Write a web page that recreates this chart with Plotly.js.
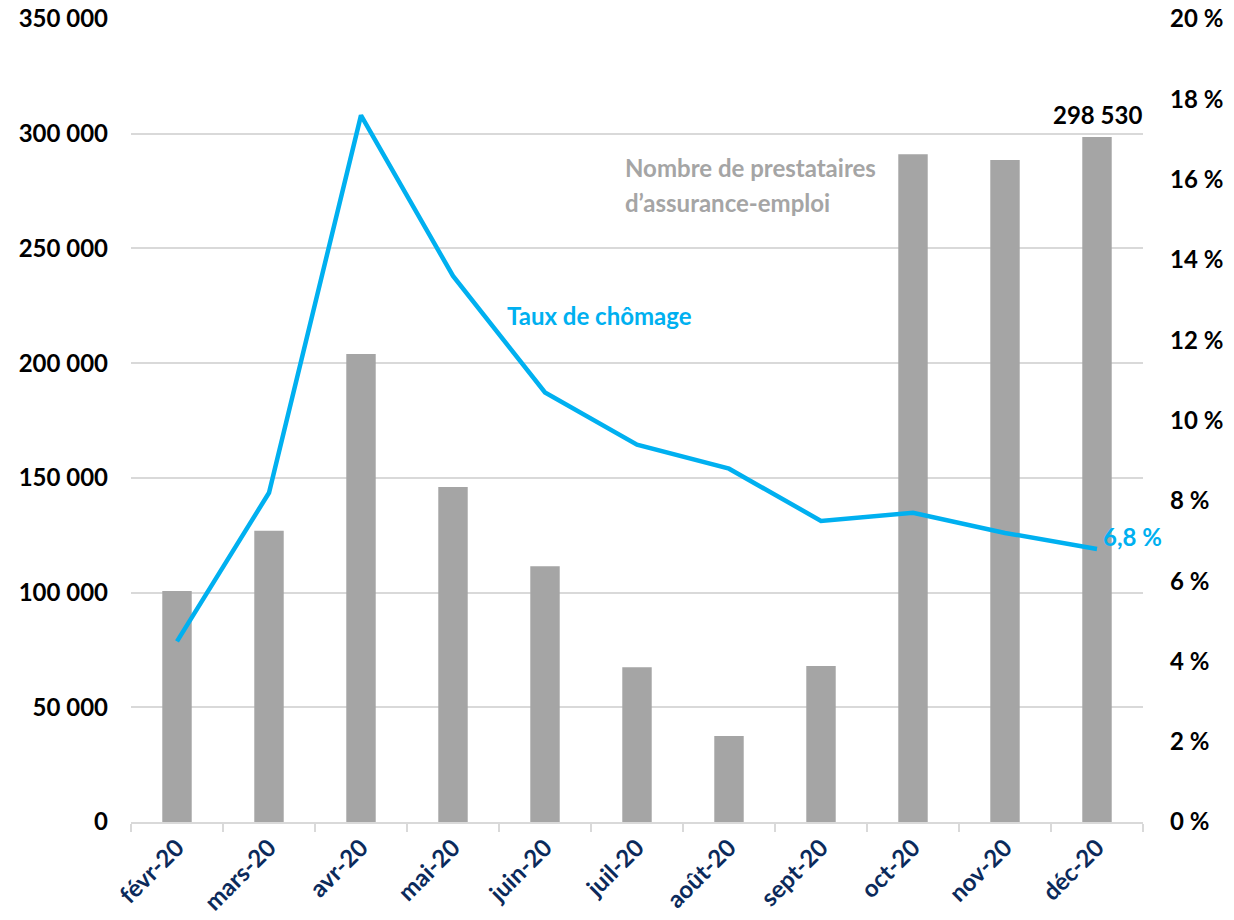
<!DOCTYPE html>
<html><head><meta charset="utf-8">
<script src="https://cdn.plot.ly/plotly-3.0.1.min.js"></script>
<style>body{margin:0;background:#fff}#c{width:1234px;height:920px}</style>
</head><body><div id="c"></div>
<script>
const months = ["févr-20","mars-20","avr-20","mai-20","juin-20","juil-20","août-20","sept-20","oct-20","nov-20","déc-20"];
const prestataires = [100700, 127000, 204000, 146000, 111500, 67500, 37500, 68000, 291000, 288500, 298530];
const tauxChomage = [4.5, 8.2, 17.6, 13.6, 10.7, 9.4, 8.8, 7.5, 7.7, 7.2, 6.8];
const leftTicks = [0,50000,100000,150000,200000,250000,300000,350000];
const leftTickText = ["0","50 000","100 000","150 000","200 000","250 000","300 000","350 000"];
const rightTicks = [0,2,4,6,8,10,12,14,16,18,20];
const rightTickText = rightTicks.map(v => v + " %");

const FONT = "Lato, Open Sans, sans-serif";
const FS = 24;
const W = 700;
const data = [
  {type:"bar", x:months, y:prestataires, marker:{color:"#a5a5a5"}, width:0.32, yaxis:"y", hoverinfo:"none"},
  {type:"scatter", mode:"lines", x:months, y:tauxChomage, line:{color:"#00b0f0", width:4.5}, yaxis:"y2", hoverinfo:"none"}
];
const layout = {
  width:1234, height:920, showlegend:false,
  margin:{l:131, r:91, t:19, b:98},
  paper_bgcolor:"#fff", plot_bgcolor:"#fff",
  font:{family:FONT, size:FS, color:"#000", weight:W},
  xaxis:{type:"category", tickangle:-45, tickfont:{color:"#0b2a5b", size:FS, family:FONT, weight:W},
    ticks:"outside", tickson:"boundaries", ticklen:8, tickcolor:"#d9d9d9", tickwidth:2,
    showline:true, linecolor:"#d9d9d9", linewidth:2, showgrid:false, zeroline:false, range:[-0.5,10.5]},
  yaxis:{range:[0,350000], tickvals:leftTicks, ticktext:leftTickText, showgrid:true, gridcolor:"#d9d9d9", gridwidth:2,
    zeroline:false, ticks:"", ticklabelstandoff:22, tickfont:{size:FS, family:FONT, weight:W, color:"#000"}},
  yaxis2:{range:[0,20], overlaying:"y", side:"right", tickvals:rightTicks, ticktext:rightTickText, showgrid:false,
    zeroline:false, ticks:"", ticklabelstandoff:26, tickfont:{size:FS, family:FONT, weight:W, color:"#000"}},
  annotations:[
    {x:months[10], y:prestataires[10], xref:"x", yref:"y", text:"298 530", showarrow:false, yanchor:"bottom", yshift:6,
      font:{size:FS, color:"#000", family:FONT, weight:W}},
    {x:0.486, y:0.815, xref:"paper", yref:"paper", xanchor:"left", yanchor:"middle",
      text:"Nombre de prestataires", showarrow:false,
      font:{size:FS, color:"#a5a5a5", family:FONT, weight:W}},
    {x:0.486, y:0.771, xref:"paper", yref:"paper", xanchor:"left", yanchor:"middle",
      text:"d’assurance-emploi", showarrow:false,
      font:{size:FS, color:"#a5a5a5", family:FONT, weight:W}},
    {x:0.463, y:0.631, xref:"paper", yref:"paper", xanchor:"center", text:"Taux de chômage", showarrow:false,
      font:{size:FS, color:"#00b0f0", family:FONT, weight:W}},
    {x:months[10], y:tauxChomage[10], xref:"x", yref:"y2", xanchor:"left", xshift:4, yshift:12, text:"6,8 %", showarrow:false,
      font:{size:FS, color:"#00b0f0", family:FONT, weight:W}}
  ]
};
Plotly.newPlot("c", data, layout, {staticPlot:true});
</script></body></html>
